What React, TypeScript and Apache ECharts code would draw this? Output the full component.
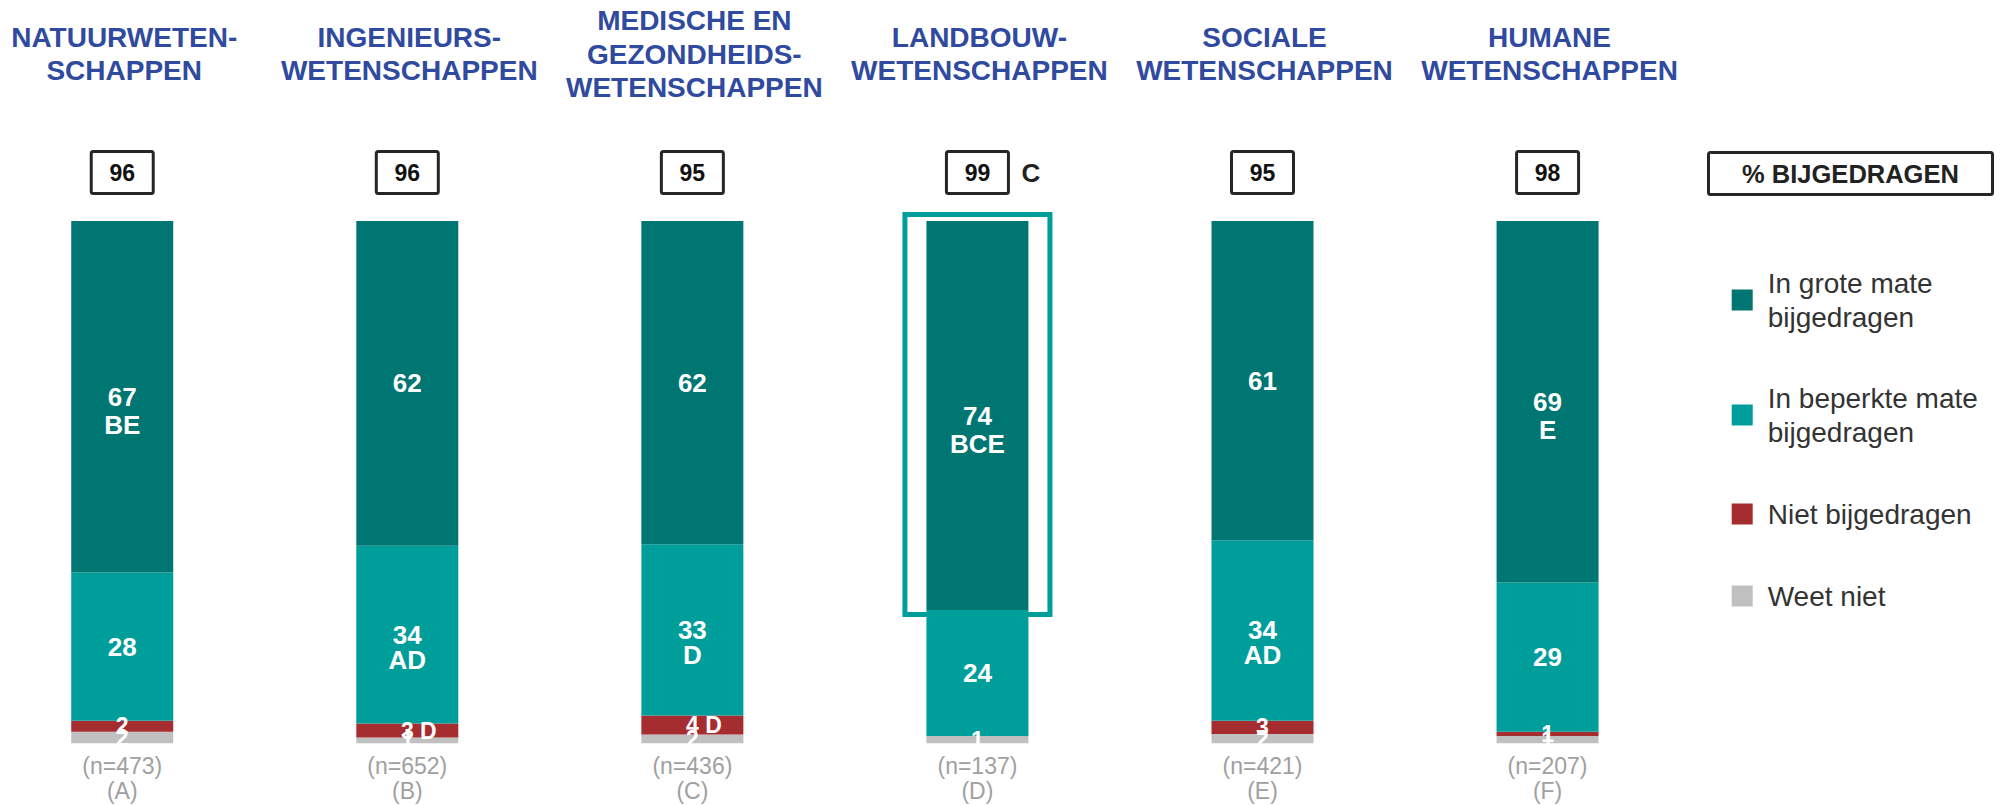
import React, { useEffect, useRef } from "react";
import * as echarts from "echarts";

const FONT = '"Liberation Sans", Arial, Helvetica, sans-serif';
// the chart canvas starts a little left of the page so the first band can start before x = 0
const SHIFT = 21;

const categories = ["A", "B", "C", "D", "E", "F"];
const headers = [
  "NATUURWETEN-\nSCHAPPEN",
  "INGENIEURS-\nWETENSCHAPPEN",
  "MEDISCHE EN\nGEZONDHEIDS-\nWETENSCHAPPEN",
  "LANDBOUW-\nWETENSCHAPPEN",
  "SOCIALE\nWETENSCHAPPEN",
  "HUMANE\nWETENSCHAPPEN",
];
const sampleSizes = ["(n=473)", "(n=652)", "(n=436)", "(n=137)", "(n=421)", "(n=207)"];
const groupCodes = ["(A)", "(B)", "(C)", "(D)", "(E)", "(F)"];
const totals = ["96", "96", "95", "99", "95", "98"];
const totalSig = ["", "", "", "C", "", ""];
const highlighted = "D";
const totalTitle = "% BIJGEDRAGEN";

const seriesNames = [
  "In grote mate bijgedragen",
  "In beperkte mate bijgedragen",
  "Niet bijgedragen",
  "Weet niet",
];
const legendTexts = [
  "In grote mate\nbijgedragen",
  "In beperkte mate\nbijgedragen",
  "Niet bijgedragen",
  "Weet niet",
];
const colors = ["#007672", "#009E9B", "#A52D2F", "#C0C0C0"];

// values
const groteMate = [67.3, 62.2, 61.9, 74.5, 61.1, 69.2];
const beperkteMate = [28.4, 34.0, 32.8, 24.1, 34.6, 28.6];
const nietBijgedragen = [2.1, 2.7, 3.6, 0, 2.5, 0.8];
const weetNiet = [2.2, 1.1, 1.7, 1.4, 1.8, 1.4];

// printed labels
const groteLabels = ["67", "62", "62", "74", "61", "69"];
const groteSig = ["BE", "", "", "BCE", "", "E"];
const beperkteLabels = ["28", "34", "33", "24", "34", "29"];
const beperkteSig = ["", "AD", "D", "", "AD", ""];
const nietLabels = ["2", "3", "4", "", "3", "1"];
const nietSig = ["", "D", "D", "", "", ""];
const weetLabels = ["2", "1", "2", "1", "2", "1"];

function stackedData(values: number[], labels: string[], sig: string[] | null, mode: "below" | "right", fontSize: number, lineHeight: number) {
  return values.map((v, i) => {
    const lab = labels[i];
    const s = sig ? sig[i] : "";
    if (!lab || v === 0) {
      return { value: v, label: { show: false } };
    }
    let text = lab;
    let offset = [0, 0];
    if (s) {
      if (mode === "below") {
        text = lab + "\n" + s;
        offset = [0, lineHeight / 2];
      } else {
        text = lab + " " + s;
        offset = [11.5, 0];
      }
    }
    return {
      value: v,
      label: {
        show: true,
        position: "inside",
        formatter: text,
        offset,
        color: "#ffffff",
        fontWeight: "bold",
        fontSize,
        lineHeight,
        fontFamily: FONT,
      },
    };
  });
}

export default function App() {
  const ref = useRef<HTMLDivElement>(null);

  useEffect(() => {
    if (!ref.current) return;
    const chart = echarts.init(ref.current, null, { renderer: "svg" });

    const seriesDefs = [
      { name: seriesNames[3], data: stackedData(weetNiet, weetLabels, null, "right", 23, 25), color: colors[3] },
      { name: seriesNames[2], data: stackedData(nietBijgedragen, nietLabels, nietSig, "right", 23, 25), color: colors[2] },
      { name: seriesNames[1], data: stackedData(beperkteMate, beperkteLabels, beperkteSig, "below", 26, 25), color: colors[1] },
      { name: seriesNames[0], data: stackedData(groteMate, groteLabels, groteSig, "below", 26, 28), color: colors[0] },
    ];

    const legendPads = [
      [8, 0, 8, 10],
      [0, 0, 0, 10],
      [9, 0, 9, 10],
      [0, 0, 0, 10],
    ];

    chart.setOption({
      animation: false,
      textStyle: { fontFamily: FONT },
      grid: { left: SHIFT - 20.3, width: 1710.4, top: 221, height: 522.3 },
      xAxis: {
        type: "category",
        data: categories,
        axisLine: { show: false },
        axisTick: { show: false },
        splitLine: { show: false },
        axisLabel: {
          formatter: (_v: string, idx: number) => sampleSizes[idx] + "\n" + groupCodes[idx],
          color: "#A0A0A0",
          fontSize: 23,
          lineHeight: 25,
          margin: 10,
          fontFamily: FONT,
        },
      },
      yAxis: { type: "value", min: 0, max: 100, show: false, splitLine: { show: false } },
      legend: {
        orient: "vertical",
        left: SHIFT + 1731.7,
        top: 258,
        padding: 0,
        itemWidth: 21,
        itemHeight: 21,
        itemGap: 39,
        icon: "rect",
        selectedMode: false,
        data: seriesNames.map((n, i) => ({ name: n, textStyle: { padding: legendPads[i] } })),
        formatter: (name: string) => legendTexts[seriesNames.indexOf(name)],
        textStyle: { fontSize: 28, lineHeight: 34, color: "#333333", fontFamily: FONT },
      },
      series: seriesDefs.map((s) => ({
        type: "bar",
        name: s.name,
        stack: "total",
        barWidth: 102,
        data: s.data,
        itemStyle: { color: s.color },
        emphasis: { disabled: true },
      })),
    });

    const xs = categories.map((c) => chart.convertToPixel({ xAxisIndex: 0 }, c) as number);
    const yTop = chart.convertToPixel({ yAxisIndex: 0 }, 100) as number;
    const graphics: any[] = [];

    categories.forEach((c, i) => {
      const cx = xs[i];
      graphics.push({
        type: "text",
        style: {
          text: headers[i],
          x: cx + 2,
          y: 54,
          align: "center",
          verticalAlign: "middle",
          fontSize: 28,
          fontWeight: "bold",
          fontFamily: FONT,
          lineHeight: 33.5,
          fill: "#2F4A9E",
        },
      });
      graphics.push({
        type: "rect",
        shape: { x: cx - 31, y: 151.5, width: 62, height: 42, r: 2 },
        style: { fill: "#ffffff", stroke: "#262626", lineWidth: 3 },
      });
      graphics.push({
        type: "text",
        style: {
          text: totals[i],
          x: cx,
          y: 173,
          align: "center",
          verticalAlign: "middle",
          fontSize: 23,
          fontWeight: "bold",
          fontFamily: FONT,
          fill: "#111111",
        },
      });
      if (totalSig[i]) {
        graphics.push({
          type: "text",
          style: {
            text: totalSig[i],
            x: cx + 44,
            y: 173,
            align: "left",
            verticalAlign: "middle",
            fontSize: 26,
            fontWeight: "bold",
            fontFamily: FONT,
            fill: "#222222",
          },
        });
      }
      if (c === highlighted) {
        const darkBottom = chart.convertToPixel(
          { yAxisIndex: 0 },
          weetNiet[i] + nietBijgedragen[i] + beperkteMate[i]
        ) as number;
        graphics.push({
          type: "rect",
          z: 10,
          shape: { x: cx - 72.5, y: yTop - 6.5, width: 145, height: darkBottom - yTop + 11 },
          style: { fill: "none", stroke: "#009E9B", lineWidth: 5 },
        });
      }
    });

    graphics.push({
      type: "rect",
      shape: { x: SHIFT + 1708.5, y: 152.5, width: 284, height: 42, r: 2 },
      style: { fill: "#ffffff", stroke: "#262626", lineWidth: 3 },
    });
    graphics.push({
      type: "text",
      style: {
        text: totalTitle,
        x: SHIFT + 1850.5,
        y: 174,
        align: "center",
        verticalAlign: "middle",
        fontSize: 25.5,
        fontWeight: "bold",
        fontFamily: FONT,
        fill: "#222222",
      },
    });

    chart.setOption({ graphic: graphics });
    return () => chart.dispose();
  }, []);

  return (
    <div
      ref={ref}
      style={{ position: "absolute", left: -SHIFT, top: 0, width: 2006 + SHIFT, height: 805, background: "#ffffff" }}
    />
  );
}
